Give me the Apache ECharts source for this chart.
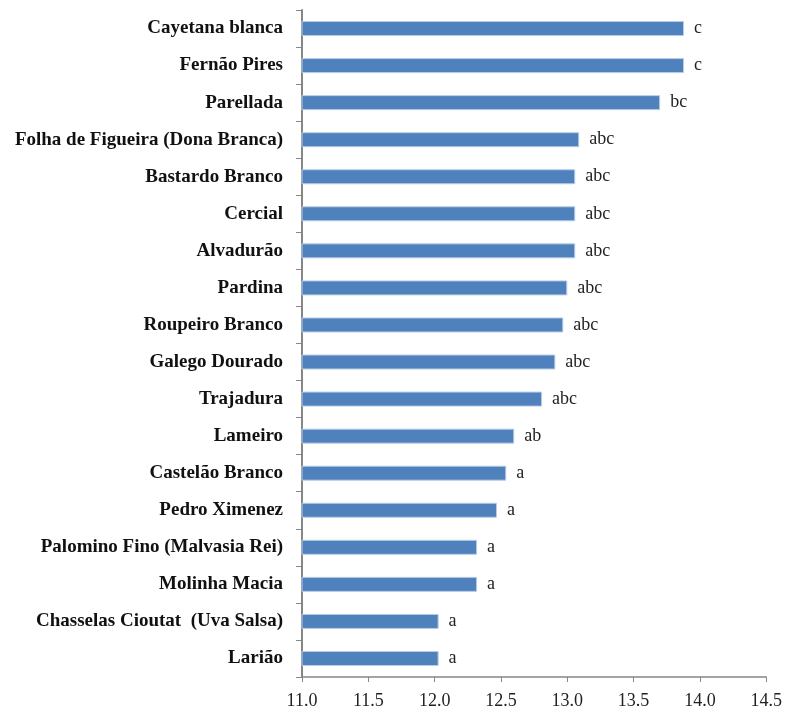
<!DOCTYPE html>
<html>
<head>
<meta charset="utf-8">
<script src="https://cdn.jsdelivr.net/npm/echarts@6/dist/echarts.min.js"></script>
<style>html,body{margin:0;padding:0;background:#fff}#c{width:785px;height:715px}</style>
</head>
<body>
<div id="c"></div>
<script>
const varieties = ["Cayetana blanca","Fernão Pires","Parellada","Folha de Figueira (Dona Branca)","Bastardo Branco","Cercial","Alvadurão","Pardina","Roupeiro Branco","Galego Dourado","Trajadura","Lameiro","Castelão Branco","Pedro Ximenez","Palomino Fino (Malvasia Rei)","Molinha Macia","Chasselas Cioutat  (Uva Salsa)","Larião"];
const values = [13.88,13.88,13.70,13.09,13.06,13.06,13.06,13.00,12.97,12.91,12.81,12.60,12.54,12.47,12.32,12.32,12.03,12.03];
const groups = ["c","c","bc","abc","abc","abc","abc","abc","abc","abc","abc","ab","a","a","a","a","a","a"];
const xMin = 11.0, xMax = 14.5, xStep = 0.5;

const serif = '"Liberation Serif", "DejaVu Serif", serif';
const chart = echarts.init(document.getElementById('c'));
chart.setOption({
  animation: false,
  grid: {left: 302, right: 18, top: 10, bottom: 38, containLabel: false},
  xAxis: {
    type: 'value', min: xMin, max: xMax, interval: xStep,
    axisLine: {show: true, lineStyle: {color: '#868686', width: 1.5}},
    axisTick: {show: true, length: 5, lineStyle: {color: '#868686'}},
    splitLine: {show: false},
    axisLabel: {color: '#222', fontFamily: serif, fontSize: 18, margin: 15,
      formatter: v => v.toFixed(1)}
  },
  yAxis: {
    type: 'category', data: varieties, inverse: true,
    axisLine: {show: true, lineStyle: {color: '#868686', width: 2}},
    axisTick: {show: true, length: 6, lineStyle: {color: '#868686'}},
    axisLabel: {color: '#111', fontFamily: serif, fontSize: 19, fontWeight: 'bold', margin: 19}
  },
  series: [{
    type: 'bar',
    data: values,
    barWidth: 15,
    itemStyle: {color: '#4F81BD', borderColor: '#B9CDE5', borderWidth: 1},
    label: {
      show: true, position: 'right', distance: 10,
      color: '#222', fontFamily: serif, fontSize: 18,
      formatter: p => groups[p.dataIndex]
    }
  }]
});
</script>
</body>
</html>
